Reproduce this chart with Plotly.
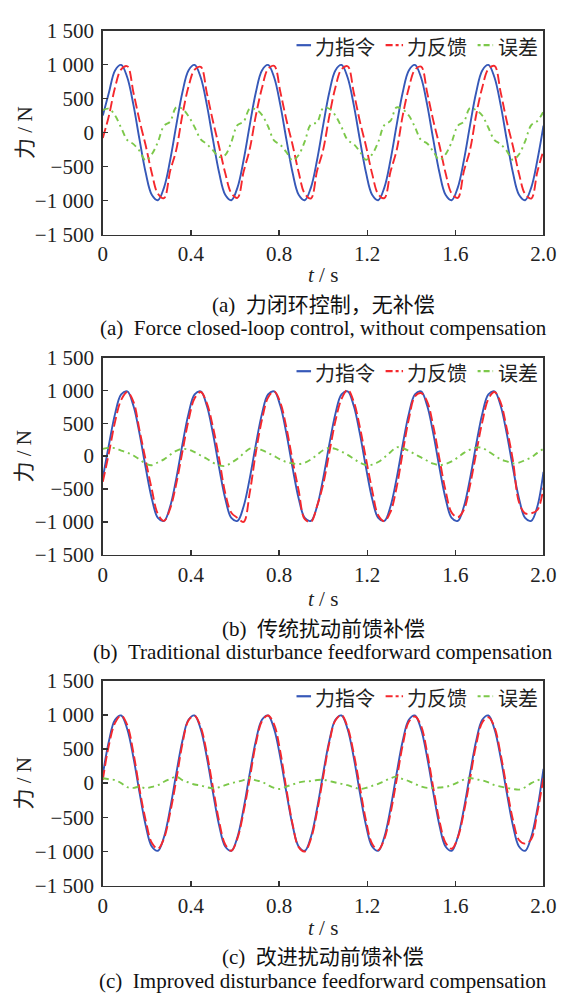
import numpy as np
import plotly.graph_objects as go

# ---------------- data ----------------
t = np.linspace(0, 2, 73)  # sampling grid, 1/36 s

cmd_a = [250, 588, 914, 995, 809, 407, -105, -588, -914, -995, -809, -407,
         105, 588, 914, 995, 809, 407, -105, -588, -914, -995, -809, -407,
         105, 588, 914, 995, 809, 407, -105, -588, -914, -995, -809, -407,
         105, 588, 914, 995, 809, 407, -105, -588, -914, -995, -809, -407,
         105, 588, 914, 995, 809, 407, -105, -588, -914, -995, -809, -407,
         105, 588, 914, 995, 809, 407, -105, -588, -914, -995, -809, -407,
         100]
fb_a = [-80, 248, 664, 930, 975, 590, 175, -188, -594, -900, -965, -567,
        -255, 258, 674, 925, 965, 580, 165, -208, -594, -890, -960, -577,
        -245, 248, 654, 935, 980, 600, 185, -178, -584, -900, -970, -567,
        -255, 238, 664, 930, 975, 590, 165, -198, -604, -905, -965, -577,
        -265, 248, 654, 925, 970, 585, 175, -188, -594, -895, -960, -567,
        -255, 258, 664, 935, 980, 595, 165, -198, -604, -905, -970, -577,
        -260]
err_a = [330, 350, 250, 70, -110, -170, -270, -410, -320, -140, 100, 160,
         370, 350, 240, 80, -100, -170, -260, -360, -330, -140, 110, 160,
         350, 340, 260, 90, -120, -180, -290, -410, -330, -130, 120, 150,
         360, 350, 250, 80, -110, -170, -280, -400, -320, -140, 110, 170,
         370, 340, 250, 80, -110, -160, -280, -400, -320, -140, 100, 160,
         360, 330, 250, 70, -110, -170, -270, -400, -320, -130, 110, 170,
         310]

cmd_b = [-330, 174, 643, 940, 985, 766, 342, -174, -643, -940, -985, -766,
         -342, 174, 643, 940, 985, 766, 342, -174, -643, -940, -985, -766,
         -342, 174, 643, 940, 985, 766, 342, -174, -643, -940, -985, -766,
         -342, 174, 643, 940, 985, 766, 342, -174, -643, -940, -985, -766,
         -342, 174, 643, 940, 985, 766, 342, -174, -643, -940, -985, -766,
         -342, 174, 643, 940, 985, 766, 342, -174, -643, -940, -985, -766,
         -240]
fb_b = [-390, 49, 523, 855, 975, 830, 392, -60, -505, -880, -985, -800,
        -422, 64, 543, 880, 975, 806, 442, -34, -560, -860, -940, -1000,
        -560, 54, 553, 890, 985, 816, 432, -64, -523, -960, -1000, -760,
        -432, 49, 533, 870, 1010, 830, 442, -39, -513, -900, -990, -850,
        -477, 54, 563, 910, 960, 830, 457, -39, -523, -860, -930, -816,
        -442, 44, 518, 870, 975, 816, 420, -60, -700, -870, -870, -820,
        -480]
err_b = [110, 125, 120, 85, 55, 10, -50, -114, -138, -95, -50, 20,
         80, 110, 100, 60, 10, -40, -100, -140, -150, -100, -40, 40,
         115, 120, 90, 50, 0, -50, -90, -110, -120, -100, -50, 20,
         90, 125, 110, 70, 20, -40, -100, -135, -130, -90, -20, 60,
         135, 120, 80, 30, -20, -70, -115, -135, -120, -80, -20, 50,
         100, 130, 125, 70, 10, -50, -80, -110, -100, -60, -20, 50,
         110]

cmd_c = [120, 616, 927, 990, 788, 375, -139, -616, -927, -990, -788, -375,
         139, 616, 927, 990, 788, 375, -139, -616, -927, -990, -788, -375,
         139, 616, 927, 990, 788, 375, -139, -616, -927, -990, -788, -375,
         139, 616, 927, 990, 788, 375, -139, -616, -927, -990, -788, -375,
         139, 616, 927, 990, 788, 375, -139, -616, -927, -990, -788, -375,
         139, 616, 927, 990, 788, 375, -139, -616, -927, -990, -788, -375,
         210]
fb_c = [49, 559, 882, 990, 848, 445, -89, -541, -872, -960, -808, -435,
        44, 571, 917, 985, 823, 435, -64, -556, -897, -990, -808, -420,
        64, 576, 907, 990, 858, 460, -89, -596, -937, -1000, -818, -420,
        89, 586, 917, 995, 818, 435, -54, -546, -887, -980, -818, -445,
        44, 556, 897, 975, 838, 445, -69, -551, -872, -960, -798, -425,
        64, 561, 887, 965, 818, 425, -69, -531, -832, -885, -820, -430,
        80]
err_c = [71, 57, 45, 0, -60, -70, -50, -75, -55, -30, 20, 60,
         95, 45, 10, -20, -35, -60, -75, -60, -30, 0, 20, 45,
         75, 40, 20, -30, -70, -85, -50, -20, 10, 25, 30, 45,
         50, 30, 10, -10, -30, -60, -85, -70, -40, -10, 30, 70,
         95, 60, 30, -10, -50, -70, -70, -65, -55, -30, 10, 50,
         75, 55, 40, 10, -30, -50, -70, -85, -95, -60, 0, 40,
         70]

series_names = ["力指令", "力反馈", "误差"]
captions_cn = ["(a)\u00a0\u00a0力闭环控制，无补偿",
               "(b)\u00a0\u00a0传统扰动前馈补偿",
               "(c)\u00a0\u00a0改进扰动前馈补偿"]
captions_en = ["(a)\u00a0\u00a0Force closed-loop control, without compensation",
               "(b)\u00a0\u00a0Traditional disturbance feedforward compensation",
               "(c)\u00a0\u00a0Improved disturbance feedforward compensation"]
y_ticks = [-1500, -1000, -500, 0, 500, 1000, 1500]
y_tick_text = ["\u22121 500", "\u22121 000", "\u2212500", "0", "500", "1 000", "1 500"]
x_ticks = [0, 0.4, 0.8, 1.2, 1.6, 2.0]
x_tick_text = ["0", "0.4", "0.8", "1.2", "1.6", "2.0"]

# ---------------- styling / layout ----------------
W, H = 571, 1005
colors = ["#3658b8", "#f5282d", "#7cc84a"]
dashes = ["solid", "10px,4px", "6px,4px,2px,4px"]
panels = [(cmd_a, fb_a, err_a), (cmd_b, fb_b, err_b), (cmd_c, fb_c, err_c)]
plot_px = [(19, 228), (354, 556), (685, 895)]     # top, bottom in px
xtitle_px = [269, 601, 938]
cap_px = [(300.5, 324), (632.5, 656), (968, 993)]
legend_px = [35, 369, 702]
# legend key layout (px): (line x0, line x1, text left)
legend_keys = [(301, 316, 318), (393, 411, 413), (488, 504, 507)]
x_left, x_right = 101, 556
SERIF = "Liberation Serif, Noto Sans CJK SC, serif"
CJK = "Noto Sans CJK SC, sans-serif"

fig = go.Figure()
layout = dict(width=W, height=H, margin=dict(l=0, r=0, t=0, b=0),
              paper_bgcolor="white", plot_bgcolor="white", showlegend=False)
annotations = []
shapes = []

for k, (cmd, fb, err) in enumerate(panels):
    sfx = "" if k == 0 else str(k + 1)
    for j, ys in enumerate((cmd, fb, err)):
        fig.add_trace(go.Scatter(
            x=t, y=ys, mode="lines", name=series_names[j],
            line=dict(color=colors[j], width=1.9, dash=dashes[j], shape="spline"),
            xaxis="x" + sfx, yaxis="y" + sfx))
    top, bot = plot_px[k]
    ydom = [1 - bot / H, 1 - top / H]
    axis_common = dict(showline=True, mirror=True, linecolor="#333333", linewidth=1.7,
                       ticks="inside", ticklen=5, tickwidth=1.4, tickcolor="#333333",
                       showgrid=False, zeroline=False,
                       tickfont=dict(family=SERIF, size=21, color="#222222"))
    layout["xaxis" + sfx] = dict(axis_common, domain=[x_left / W, x_right / W],
                                 range=[0, 2], tickvals=x_ticks, ticktext=x_tick_text,
                                 anchor="y" + sfx)
    layout["yaxis" + sfx] = dict(axis_common, domain=ydom, range=[-1500, 1500],
                                 tickvals=y_ticks, ticktext=y_tick_text,
                                 anchor="x" + sfx, ticklabelstandoff=3)
    # legend keys (drawn as layout decorations)
    ly = legend_px[k]
    for j, (lx0, lx1, tx) in enumerate(legend_keys):
        shapes.append(dict(type="line", xref="paper", yref="paper",
                           x0=lx0 / W, x1=lx1 / W, y0=1 - (ly - 1) / H, y1=1 - (ly - 1) / H,
                           line=dict(color=colors[j], width=2.2,
                                     dash=["solid", "7px,3px,3px,3px", "3px,3px,6px,3px"][j])))
        annotations.append(dict(text=series_names[j], x=tx / W, y=1 - ly / H,
                                xref="paper", yref="paper", xanchor="left",
                                yanchor="middle", showarrow=False,
                                font=dict(family=CJK, size=20, color="#222222")))
    # axis titles
    annotations.append(dict(text="<i>t</i> / s", x=(x_left + x_right) / 2 / W,
                            y=1 - xtitle_px[k] / H, xref="paper", yref="paper",
                            xanchor="center", yanchor="middle", showarrow=False,
                            font=dict(family=SERIF, size=21, color="#222222")))
    annotations.append(dict(text="力 / N", x=20 / W, y=1 - (top + bot) / 2 / H,
                            xref="paper", yref="paper", textangle=-90,
                            xanchor="center", yanchor="middle", showarrow=False,
                            font=dict(family=SERIF, size=21, color="#222222")))
    # captions
    annotations.append(dict(text=captions_cn[k], x=328.5 / W, y=1 - cap_px[k][0] / H,
                            xref="paper", yref="paper", xanchor="center",
                            yanchor="middle", showarrow=False,
                            font=dict(family=SERIF, size=21, color="#111111")))
    annotations.append(dict(text=captions_en[k], x=328.5 / W, y=1 - cap_px[k][1] / H,
                            xref="paper", yref="paper", xanchor="center",
                            yanchor="middle", showarrow=False,
                            font=dict(family=SERIF, size=21, color="#111111")))

layout["annotations"] = annotations
layout["shapes"] = shapes
fig.update_layout(**layout)
fig.write_html("out.html", config={"displayModeBar": False, "staticPlot": True})

# remove the browser's default page margin so the figure sits at (0, 0)
with open("out.html", encoding="utf-8") as f:
    html = f.read()
html = html.replace("<head>", "<head><style>html,body{margin:0;padding:0;overflow:hidden;}</style>", 1)
with open("out.html", "w", encoding="utf-8") as f:
    f.write(html)
